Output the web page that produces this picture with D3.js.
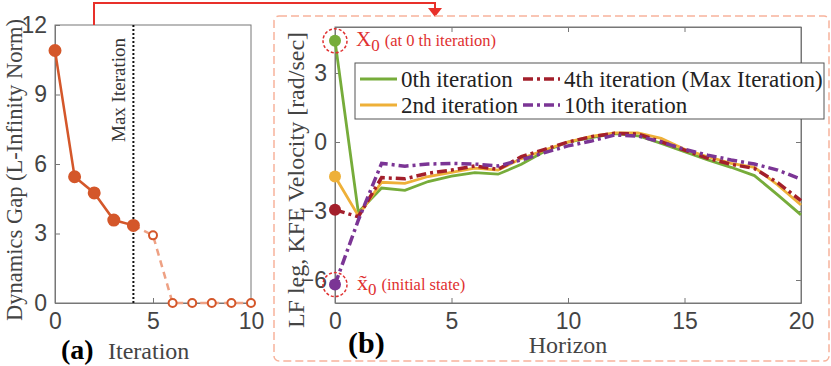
<!DOCTYPE html>
<html>
<head>
<meta charset="utf-8">
<script src="https://cdn.jsdelivr.net/npm/d3@7"></script>
<style>
  body { margin: 0; background: #fff; }
  svg { font-family: "Liberation Serif", "DejaVu Serif", serif; }
  .tick text { fill: #444; font-size: 23px; }
  .tick line, .domain { stroke: #777; }
</style>
</head>
<body>
<svg id="chart" width="831" height="366"></svg>
<script>
// (a) dynamics gap per iteration
var iterations = [0, 1, 2, 3, 4, 5, 6, 7, 8, 9, 10];
var gap = [10.9, 5.45, 4.75, 3.58, 3.35, 2.92, 0, 0, 0, 0, 0];
var maxIter = 4;

// (b) velocity over horizon
var horizon = d3.range(0, 21);
var iter0 = [4.4, -3.05, -2.0, -2.1, -1.72, -1.48, -1.33, -1.4, -0.97, -0.4, 0.0, 0.19, 0.36, 0.27, -0.06, -0.42, -0.78, -1.1, -1.46, -2.3, -3.17];
var iter2 = [-1.5, -3.2, -1.75, -1.8, -1.5, -1.32, -1.14, -1.22, -0.72, -0.35, 0.0, 0.24, 0.4, 0.4, 0.16, -0.32, -0.64, -0.93, -1.1, -1.87, -2.74];
var iter4 = [-2.95, -3.25, -1.55, -1.6, -1.36, -1.22, -1.04, -1.19, -0.64, -0.32, 0.0, 0.23, 0.38, 0.35, 0.01, -0.35, -0.71, -0.97, -1.15, -1.77, -2.55];
var iter10 = [-6.2, -3.4, -0.93, -1.05, -0.96, -0.93, -0.96, -1.04, -0.78, -0.46, -0.17, 0.04, 0.3, 0.26, 0.0, -0.32, -0.57, -0.78, -0.96, -1.22, -1.62];
var seriesNames = ["0th iteration", "2nd iteration", "4th iteration (Max Iteration)", "10th iteration"];

var svg = d3.select("#chart");

// ---------- panel (a) ----------
var xa = d3.scaleLinear().domain([0, 10]).range([55, 251]);
var ya = d3.scaleLinear().domain([0, 12]).range([303, 25]);

svg.append("rect")
  .attr("x", 55).attr("y", 25).attr("width", 196).attr("height", 278)
  .attr("fill", "none").attr("stroke", "#777");

svg.append("g")
  .attr("transform", "translate(0,303)")
  .call(d3.axisBottom(xa).tickValues([0, 5, 10]).tickSizeInner(-5).tickSizeOuter(0).tickPadding(10));
svg.append("g")
  .attr("transform", "translate(55,0)")
  .call(d3.axisLeft(ya).tickValues([0, 3, 6, 9, 12]).tickSizeInner(-5).tickSizeOuter(0).tickPadding(8));

// max iteration marker
svg.append("line")
  .attr("x1", xa(maxIter)).attr("x2", xa(maxIter))
  .attr("y1", 25).attr("y2", 303)
  .attr("stroke", "#111").attr("stroke-width", 2).attr("stroke-dasharray", "2,2");
svg.append("text")
  .attr("transform", "translate(" + (xa(maxIter) - 8) + ",90) rotate(-90)")
  .attr("text-anchor", "middle")
  .attr("fill", "#333").style("font-size", "19px")
  .text("Max Iteration");

var lineA = d3.line()
  .x(function(d) { return xa(d[0]); })
  .y(function(d) { return ya(d[1]); });

var pts = iterations.map(function(d, i) { return [d, gap[i]]; });
var solidPts = pts.filter(function(d) { return d[0] <= maxIter; });
var dashPts = pts.filter(function(d) { return d[0] >= maxIter; });

svg.append("path").datum(dashPts)
  .attr("d", lineA).attr("fill", "none")
  .attr("stroke", "#eea184").attr("stroke-width", 2.5).attr("stroke-dasharray", "7,5");
svg.append("path").datum(solidPts)
  .attr("d", lineA).attr("fill", "none")
  .attr("stroke", "#d4572a").attr("stroke-width", 2.5);

svg.selectAll(".ptA").data(pts).enter().append("circle")
  .attr("cx", function(d) { return xa(d[0]); })
  .attr("cy", function(d) { return ya(d[1]); })
  .attr("r", function(d) { return d[0] <= maxIter ? 5.5 : 4; })
  .attr("fill", function(d) { return d[0] <= maxIter ? "#d4572a" : "#fff"; })
  .attr("stroke", "#d4572a").attr("stroke-width", 2);

svg.append("text")
  .attr("transform", "translate(22,170) rotate(-90)")
  .attr("text-anchor", "middle").attr("fill", "#444").style("font-size", "22.5px")
  .text("Dynamics Gap (L-Infinity Norm)");
svg.append("text").attr("x", 61).attr("y", 359)
  .style("font-size", "28px").style("font-weight", "bold").text("(a)");
svg.append("text").attr("x", 108).attr("y", 359)
  .attr("fill", "#444").style("font-size", "24px").text("Iteration");

// ---------- connector ----------
svg.append("path")
  .attr("d", "M94,25 V3 H435 V12")
  .attr("fill", "none").attr("stroke", "#e8302a").attr("stroke-width", 2);
svg.append("path")
  .attr("d", "M428,8 L442,8 L435,17 Z").attr("fill", "#e8302a");

// ---------- panel (b) ----------
svg.append("rect")
  .attr("x", 274).attr("y", 16).attr("width", 555).attr("height", 345)
  .attr("rx", 5).attr("fill", "none")
  .attr("stroke", "#f7b39c").attr("stroke-width", 1.5).attr("stroke-dasharray", "8,4");

var xb = d3.scaleLinear().domain([0, 20]).range([335, 801]);
var yb = d3.scaleLinear().domain([-7, 5]).range([303, 27]);

svg.append("rect")
  .attr("x", 335).attr("y", 27).attr("width", 466).attr("height", 276)
  .attr("fill", "none").attr("stroke", "#777");
svg.append("g")
  .attr("transform", "translate(0,303)")
  .call(d3.axisBottom(xb).tickValues([0, 5, 10, 15, 20]).tickSizeInner(-5).tickSizeOuter(0).tickPadding(10));
svg.append("g")
  .attr("transform", "translate(0,27)")
  .call(d3.axisTop(xb).tickValues([0, 5, 10, 15, 20]).tickSizeInner(-5).tickSizeOuter(0).tickFormat(""));
svg.append("g")
  .attr("transform", "translate(335,0)")
  .call(d3.axisLeft(yb).tickValues([-6, -3, 0, 3]).tickSizeInner(-5).tickSizeOuter(0).tickPadding(8));
svg.append("g")
  .attr("transform", "translate(801,0)")
  .call(d3.axisRight(yb).tickValues([-6, -3, 0, 3]).tickSizeInner(-5).tickSizeOuter(0).tickFormat(""));

var series = [
  { name: seriesNames[0], values: iter0, color: "#76ac3a", dash: null, w: 2.8 },
  { name: seriesNames[1], values: iter2, color: "#eeb038", dash: null, w: 2.8 },
  { name: seriesNames[2], values: iter4, color: "#a31f2b", dash: "10,4,3,4", w: 3.5 },
  { name: seriesNames[3], values: iter10, color: "#7b3595", dash: "10,4,3,4", w: 3.5 }
];

var lineB = d3.line()
  .x(function(d, i) { return xb(horizon[i]); })
  .y(function(d) { return yb(d); });

series.forEach(function(s) {
  svg.append("path").datum(s.values)
    .attr("d", lineB).attr("fill", "none")
    .attr("stroke", s.color).attr("stroke-width", s.w)
    .attr("stroke-dasharray", s.dash);
  svg.append("circle")
    .attr("cx", xb(horizon[0])).attr("cy", yb(s.values[0]))
    .attr("r", 6).attr("fill", s.color);
});

// annotations
svg.append("circle").attr("cx", xb(0)).attr("cy", yb(iter0[0])).attr("r", 12)
  .attr("fill", "none").attr("stroke", "#e03030").attr("stroke-width", 1.5).attr("stroke-dasharray", "3,2");
svg.append("circle").attr("cx", xb(0)).attr("cy", yb(iter10[0])).attr("r", 12)
  .attr("fill", "none").attr("stroke", "#e03030").attr("stroke-width", 1.5).attr("stroke-dasharray", "3,2");

var t1 = svg.append("text").attr("x", 356).attr("y", 46).attr("fill", "#e03030");
t1.append("tspan").style("font-size", "21px").text("X");
t1.append("tspan").style("font-size", "17px").attr("dy", 5).text("0");
t1.append("tspan").style("font-size", "16.5px").attr("dy", -5).attr("dx", 5).text("(at 0 th iteration)");

var t2 = svg.append("text").attr("x", 357).attr("y", 290).attr("fill", "#e03030");
t2.append("tspan").style("font-size", "22px").text("x\u0303");
t2.append("tspan").style("font-size", "17px").attr("dy", 5).text("0");
t2.append("tspan").style("font-size", "16.5px").attr("dy", -5).attr("dx", 5).text("(initial state)");

// legend
svg.append("rect")
  .attr("x", 355).attr("y", 63).attr("width", 469).attr("height", 56)
  .attr("fill", "#fff").attr("stroke", "#555");
var legPos = [[356, 79], [356, 105], [519, 79], [519, 105]];
series.forEach(function(s, i) {
  var p = legPos[i];
  svg.append("line")
    .attr("x1", p[0] + 4).attr("x2", p[0] + 41).attr("y1", p[1]).attr("y2", p[1])
    .attr("stroke", s.color).attr("stroke-width", s.w).attr("stroke-dasharray", s.dash);
  svg.append("text")
    .attr("x", p[0] + 45).attr("y", p[1] + 8)
    .style("font-size", "23px").attr("fill", "#222")
    .text(s.name);
});

svg.append("text")
  .attr("transform", "translate(304,180) rotate(-90)")
  .attr("text-anchor", "middle").attr("fill", "#444").style("font-size", "24px")
  .text("LF leg, KFE Velocity [rad/sec]");
svg.append("text").attr("x", 568).attr("y", 353).attr("text-anchor", "middle")
  .attr("fill", "#444").style("font-size", "24px").text("Horizon");
svg.append("text").attr("x", 348).attr("y", 353)
  .style("font-size", "30px").style("font-weight", "bold").text("(b)");
</script>
</body>
</html>
